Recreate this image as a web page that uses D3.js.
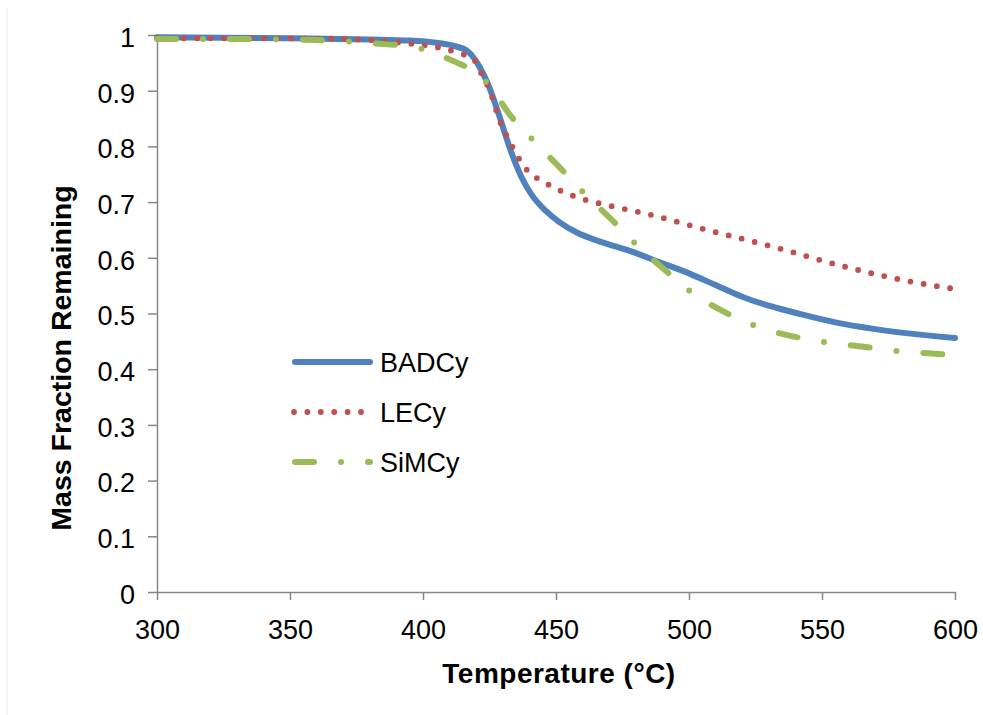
<!DOCTYPE html>
<html>
<head>
<meta charset="utf-8">
<script src="https://cdn.jsdelivr.net/npm/d3@7"></script>
<style>
  html, body { margin: 0; padding: 0; background: #fff; }
  svg { display: block; }
  text { font-family: "Liberation Sans", Arial, sans-serif; fill: #000; }
</style>
</head>
<body>
<svg id="chart" width="983" height="715"></svg>
<script>
// ---- data ----
const xTicks = [300, 350, 400, 450, 500, 550, 600];
const yTicks = [0, 0.1, 0.2, 0.3, 0.4, 0.5, 0.6, 0.7, 0.8, 0.9, 1];
const yTickLabels = ["0", "0.1", "0.2", "0.3", "0.4", "0.5", "0.6", "0.7", "0.8", "0.9", "1"];

const badcyT = [300, 350, 380, 395, 405, 412, 417, 421, 425, 429, 433, 437, 441, 446, 451, 458, 466, 478, 489, 500, 510, 520, 530, 541, 555, 570, 585, 600];
const badcyM = [0.996, 0.994, 0.992, 0.990, 0.986, 0.980, 0.970, 0.945, 0.905, 0.850, 0.792, 0.745, 0.712, 0.685, 0.665, 0.645, 0.630, 0.612, 0.592, 0.572, 0.551, 0.530, 0.514, 0.500, 0.484, 0.472, 0.463, 0.456];

const lecyT = [300, 340, 369, 394, 404, 414, 419, 421, 425.6, 428.6, 433, 438, 446.6, 456, 470.6, 485, 503.6, 533, 558.6, 583.6, 600];
const lecyM = [0.994, 0.994, 0.993, 0.985, 0.979, 0.967, 0.957, 0.939, 0.894, 0.849, 0.805, 0.764, 0.733, 0.712, 0.693, 0.678, 0.654, 0.618, 0.584, 0.557, 0.544];

const simcyT = [300, 330, 360, 381, 397, 407, 413, 418, 422, 428.6, 432, 441, 451, 461, 470.6, 481, 490.5, 501, 514, 526, 540, 553.5, 566, 577, 595, 600];
const simcyM = [0.993, 0.993, 0.991, 0.985, 0.978, 0.962, 0.950, 0.938, 0.924, 0.885, 0.861, 0.813, 0.764, 0.714, 0.670, 0.620, 0.580, 0.538, 0.501, 0.476, 0.458, 0.447, 0.440, 0.433, 0.427, 0.425];

const seriesNames = ["BADCy", "LECy", "SiMCy"];
const seriesColors = ["#4F81BD", "#C0504D", "#9BBB59"];

// ---- layout ----
const svg = d3.select("#chart");
const x = d3.scaleLinear().domain([300, 600]).range([157, 955]);
const y = d3.scaleLinear().domain([0, 1]).range([592, 35]);
const axisColor = "#868686";

// faint left border
svg.append("line").attr("x1", 7).attr("x2", 7).attr("y1", 8).attr("y2", 715)
  .attr("stroke", "#ececec").attr("stroke-width", 1);

// axes
const xAxis = svg.append("g").attr("transform", "translate(0,592)")
  .call(d3.axisBottom(x).tickValues(xTicks).tickSize(8).tickSizeOuter(0).tickFormat(d3.format("d")));
const yAxis = svg.append("g").attr("transform", "translate(157,0)")
  .call(d3.axisLeft(y).tickValues(yTicks).tickSize(9).tickSizeOuter(0).tickFormat((d, i) => yTickLabels[i]));

[xAxis, yAxis].forEach(g => {
  g.select(".domain").attr("stroke", axisColor).attr("stroke-width", 1.5);
  g.selectAll(".tick line").attr("stroke", axisColor).attr("stroke-width", 1.5);
  g.selectAll(".tick text").attr("font-size", 27).attr("font-family", "Liberation Sans, Arial, sans-serif").attr("fill", "#000");
});
xAxis.selectAll(".tick text").attr("y", 0).attr("dy", 47);
yAxis.selectAll(".tick text").attr("x", -22).attr("dy", "0.42em");

// axis titles
svg.append("text").attr("x", 559).attr("y", 683).attr("text-anchor", "middle")
  .attr("font-size", 28).attr("font-weight", "bold").attr("letter-spacing", 0.5)
  .text("Temperature (°C)");
svg.append("text").attr("transform", "translate(71,358) rotate(-90)").attr("text-anchor", "middle")
  .attr("font-size", 28.5).attr("font-weight", "bold")
  .text("Mass Fraction Remaining");

// lines
const line = d3.line().x(d => x(d[0])).y(d => y(d[1])).curve(d3.curveMonotoneX);
const seriesData = [
  d3.zip(badcyT, badcyM),
  d3.zip(lecyT, lecyM),
  d3.zip(simcyT, simcyM)
];
const styles = [
  { w: 6, dash: null },
  { w: 5.8, dash: "0 13.4" },
  { w: 6, dash: "19 27 0 27" }
];
seriesData.forEach((data, i) => {
  svg.append("path").datum(data).attr("d", line)
    .attr("fill", "none").attr("stroke", seriesColors[i])
    .attr("stroke-width", styles[i].w)
    .attr("stroke-linecap", "round").attr("stroke-linejoin", "round")
    .attr("stroke-dasharray", styles[i].dash);
});

// legend
const legY = [362, 412, 462];
seriesNames.forEach((name, i) => {
  const x1 = i === 1 ? 294 : 295;
  const x2 = i === 1 ? 362 : 370;
  svg.append("line").attr("x1", x1).attr("x2", x2).attr("y1", legY[i]).attr("y2", legY[i])
    .attr("stroke", seriesColors[i]).attr("stroke-width", styles[i].w)
    .attr("stroke-linecap", "round").attr("stroke-dasharray", styles[i].dash);
  svg.append("text").attr("x", 380).attr("y", legY[i]).attr("dy", "0.36em")
    .attr("font-size", 27).text(name);
});
</script>
</body>
</html>
